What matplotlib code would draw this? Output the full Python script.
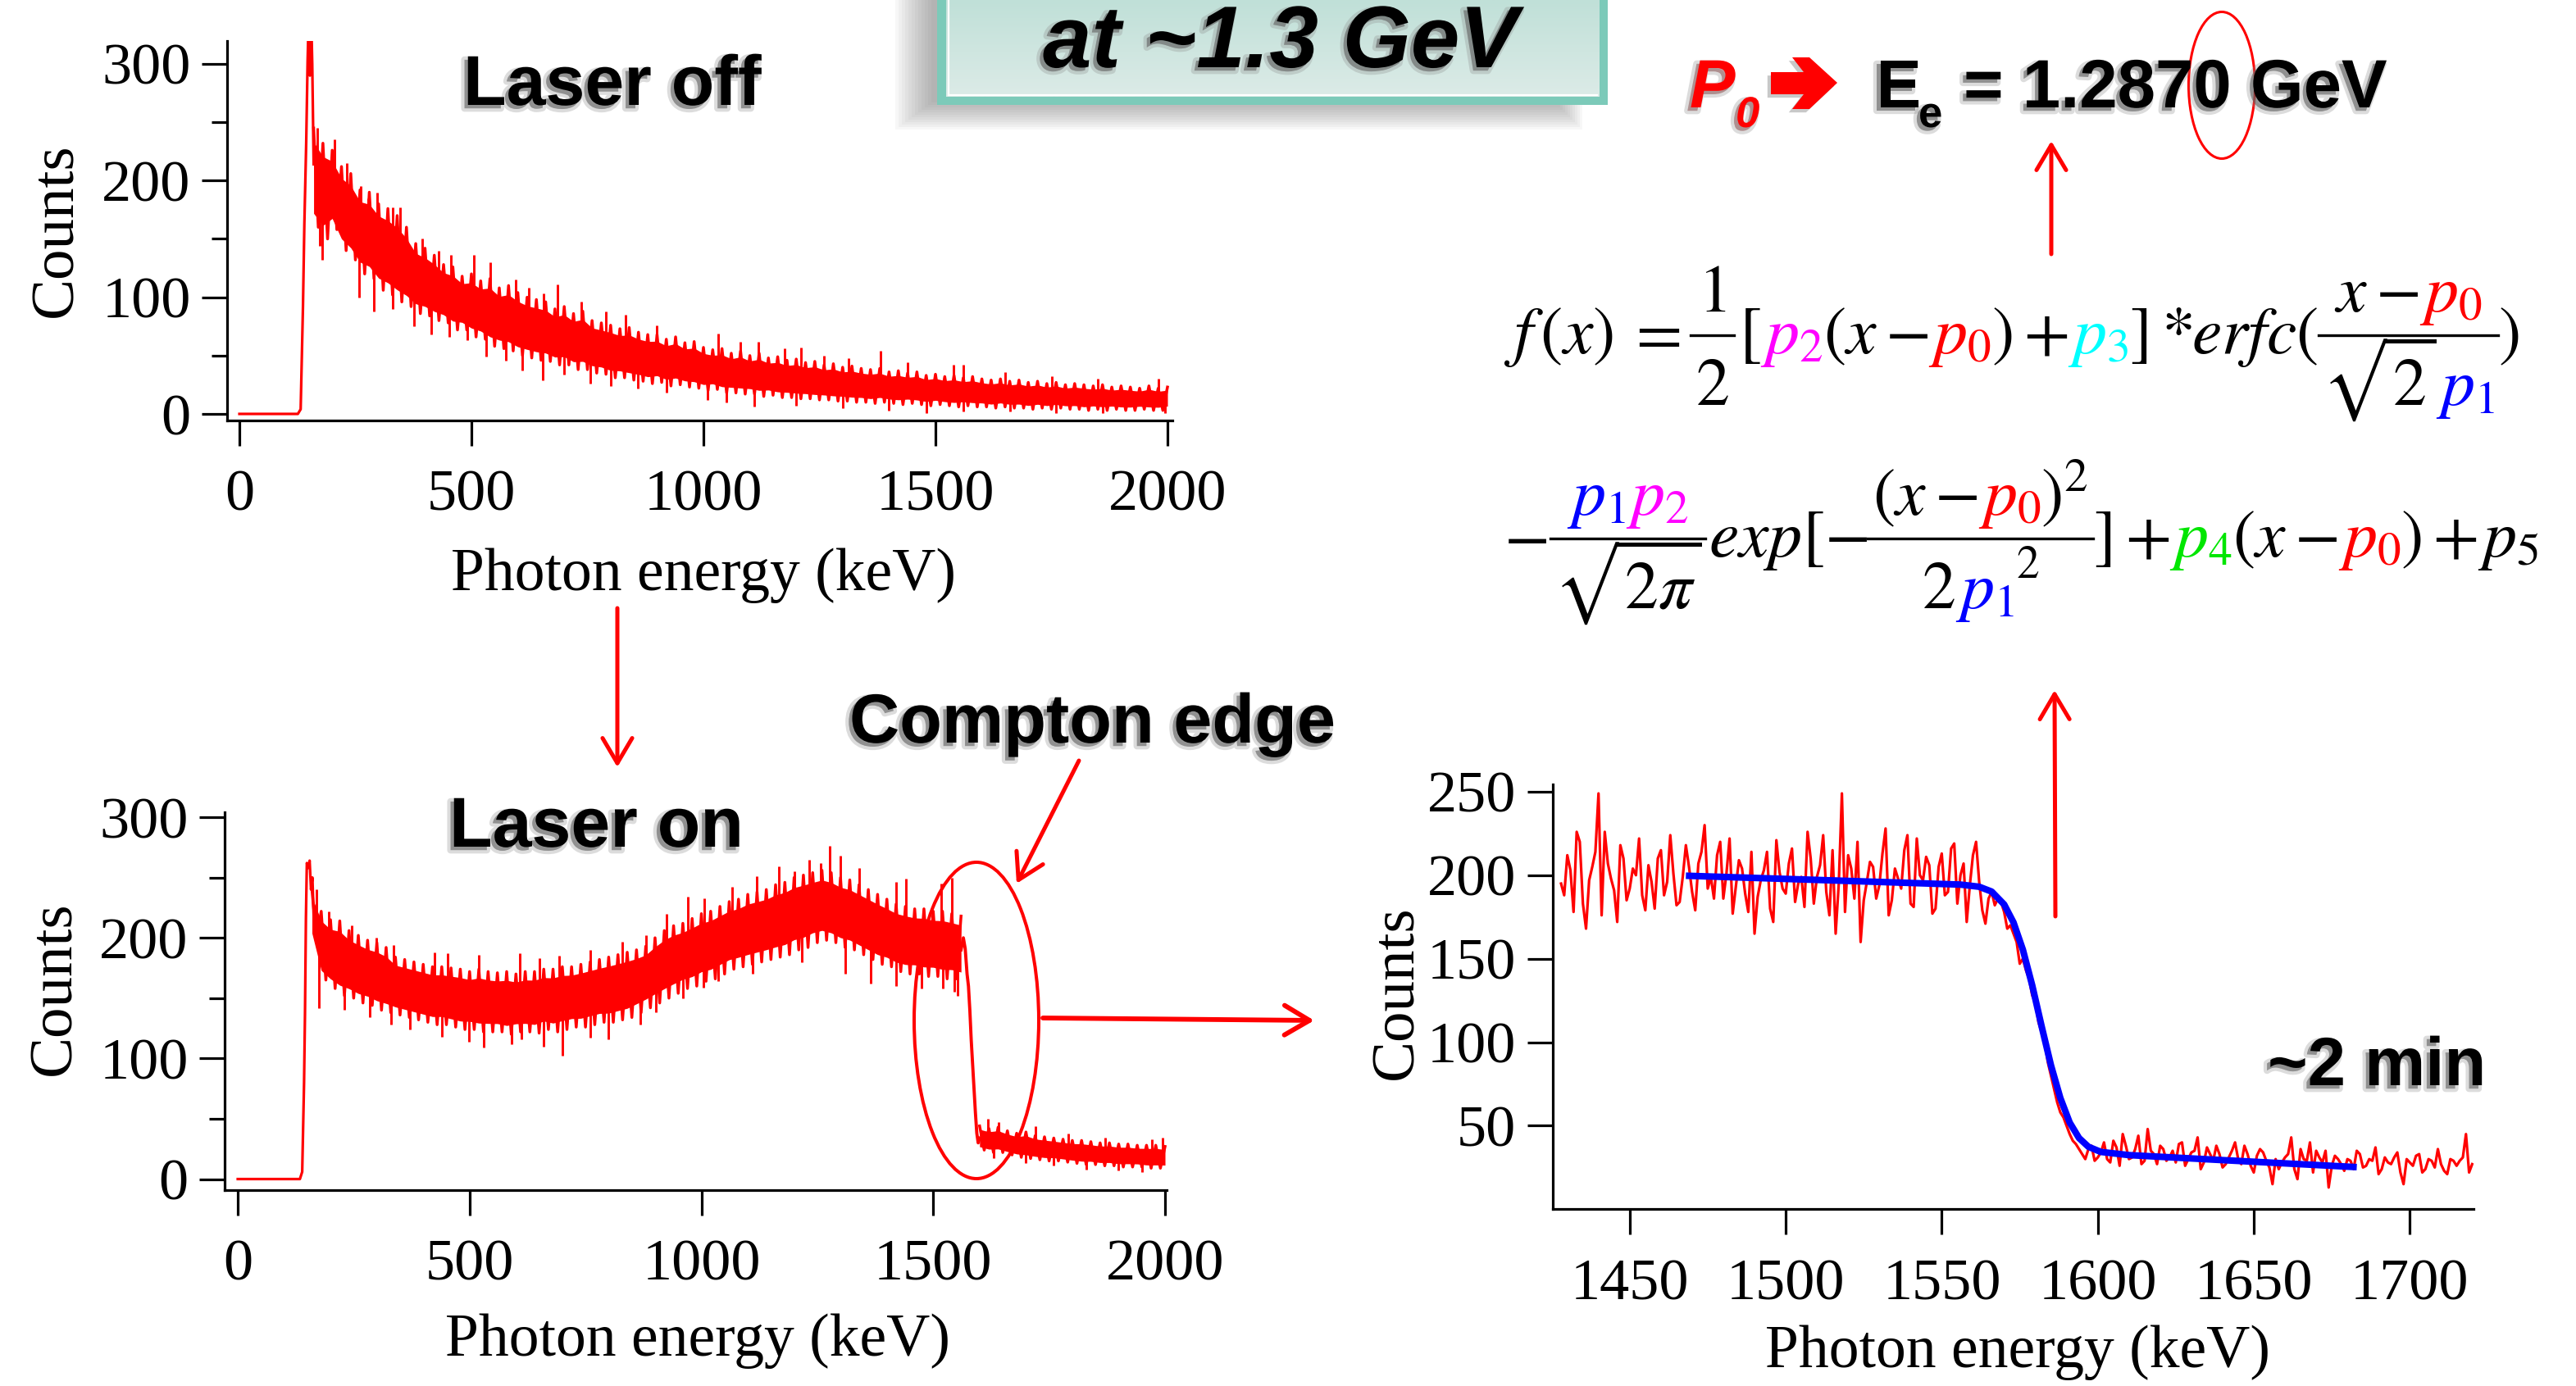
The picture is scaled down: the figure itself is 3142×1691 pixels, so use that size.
import numpy as np
import matplotlib
matplotlib.use("Agg")
import matplotlib.pyplot as plt
import matplotlib.patches as mpatches
import matplotlib.transforms as mtransforms
import matplotlib.patheffects as pe
from matplotlib.lines import Line2D
from matplotlib.colors import LinearSegmentedColormap

# ======================= DATA =======================
# --- Panel A: "Laser off" spectrum (keV, counts) ---
off_rise_x = [0, 126, 132, 137, 140, 144, 147, 149, 152, 155, 157, 160]
off_rise_y = [0, 0, 4, 92, 163, 233, 303, 335, 290, 335, 300, 214]
off_band_x = np.arange(160, 2001, 20)
off_upper = [245, 232, 226, 212, 206, 192, 190, 180, 176, 170,
             160, 146, 142, 136, 128, 126, 118, 120, 114, 116,
             108, 110, 104, 100, 98, 96, 90, 92, 86, 88,
             80, 78, 76, 73, 74, 70, 68, 68, 64, 66,
             61, 62, 57, 55, 56, 52, 54, 50, 52, 48,
             49, 46, 47, 44, 45, 42, 43, 40, 41, 39,
             38, 39, 36, 37, 35, 36, 33, 34, 32, 33,
             31, 32, 30, 29, 30, 28, 29, 27, 28, 26,
             27, 25, 26, 25, 24, 25, 23, 24, 23, 22,
             24, 22, 23]
off_lower = [160, 150, 158, 140, 132, 120, 116, 106, 102, 96,
             92, 86, 84, 80, 78, 72, 72, 66, 64, 58,
             56, 54, 50, 48, 46, 45, 42, 42, 38, 38,
             35, 34, 31, 31, 29, 28, 26, 27, 24, 25,
             23, 22, 20, 21, 18, 18, 17, 17, 15, 16,
             14, 14, 13, 13, 12, 12, 11, 11, 10, 10,
             9, 10, 9, 8, 9, 8, 7, 8, 7, 6,
             7, 6, 6, 5, 6, 5, 5, 4, 5, 4,
             5, 4, 4, 3, 4, 3, 4, 3, 3, 4,
             3, 3, 4]
off_spk_up_x = [167, 205, 232, 262, 277, 296, 330, 346, 394, 430, 455, 506, 540, 595, 623, 655, 685, 737,
                790, 832, 900, 1032, 1080, 1118, 1175, 1211, 1260, 1313, 1382, 1440, 1538, 1560, 1650,
                1750, 1850, 1980]
off_spk_up_y = [245, 235, 215, 195, 185, 190, 177, 177, 150, 140, 136, 136, 130, 115, 108, 103, 111, 96,
                88, 85, 76, 69, 62, 62, 56, 57, 50, 48, 54, 44, 42, 42, 36,
                32, 30, 30]
off_spk_dn_x = [174, 178, 258, 290, 330, 376, 413, 452, 491, 531, 575, 609, 653, 700, 757, 800, 858, 920,
                1009, 1050, 1110, 1200, 1300, 1400, 1480, 1560, 1660, 1760, 1860, 1995]
off_spk_dn_y = [144, 132, 100, 88, 90, 75, 68, 66, 63, 49, 46, 37, 29, 34, 26, 24, 22, 18,
                12, 10, 6, 7, 5, 3, 1, 2, 2, 1, 1, 1]

# --- Panel B: "Laser on" spectrum ---
on_rise_x = [0, 134, 139, 143, 145, 147, 149, 152, 155, 158, 161, 164]
on_rise_y = [0, 0, 6, 80, 137, 216, 262, 258, 264, 240, 250, 215]
on_band_x = np.arange(160, 1561, 20)
on_upper = [240, 222, 215, 214, 206, 202, 198, 196, 192, 184,
            182, 180, 178, 176, 176, 175, 174, 172, 174, 172,
            171, 172, 170, 172, 172, 174, 174, 176, 176, 178,
            180, 182, 184, 186, 188, 190, 193, 200, 206, 210,
            212, 216, 220, 222, 226, 230, 232, 236, 238, 240,
            244, 246, 250, 252, 254, 256, 254, 250, 248, 244,
            240, 236, 232, 228, 226, 224, 224, 222, 222, 220,
            218]
on_lower = [198, 165, 158, 152, 150, 146, 144, 140, 138, 136,
            134, 132, 130, 128, 128, 126, 124, 124, 122, 122,
            122, 120, 122, 122, 121, 124, 122, 124, 126, 126,
            128, 130, 130, 132, 134, 138, 142, 146, 150, 154,
            158, 160, 164, 166, 170, 174, 176, 178, 180, 182,
            184, 186, 190, 192, 196, 198, 196, 192, 190, 186,
            182, 178, 176, 172, 170, 170, 168, 168, 166, 166,
            164]
on_edge_x = [1560, 1565, 1569, 1573, 1576, 1579, 1582, 1585, 1588, 1591, 1594, 1597, 1600]
on_edge_y = [190, 200, 191, 170, 160, 140, 115, 95, 75, 55, 38, 30, 34]
on_tail_x = np.arange(1600, 2001, 20)
on_tail_upper = [44, 42, 43, 40, 38, 39, 36, 35, 34, 33, 32, 32, 31, 30, 30, 29, 29, 28, 28, 28, 27]
on_tail_lower = [24, 22, 22, 20, 18, 17, 16, 15, 15, 14, 13, 12, 12, 11, 11, 10, 10, 10, 9, 9, 9]
on_spk_up_x = [170, 196, 246, 298, 336, 425, 452, 520, 608, 650, 693, 760, 830, 880, 925, 970, 1007, 1066,
               1120, 1167, 1200, 1232, 1257, 1276, 1300, 1340, 1420, 1442, 1518, 1540, 1618, 1641, 1720,
               1792, 1870, 1972, 1995]
on_spk_up_y = [240, 222, 210, 200, 194, 188, 187, 186, 187, 183, 185, 190, 197, 202, 220, 234, 233, 242,
               251, 259, 255, 265, 262, 276, 268, 258, 246, 249, 245, 250, 50, 47, 44,
               38, 34, 33, 34]
on_spk_dn_x = [175, 230, 284, 330, 372, 441, 498, 530, 590, 612, 660, 700, 760, 800, 868, 902, 960, 1004,
               1036, 1110, 1217, 1310, 1366, 1420, 1474, 1521, 1545, 1552, 1630, 1700, 1760, 1830, 1900, 1950]
on_spk_dn_y = [142, 140, 134, 128, 124, 118, 114, 109, 112, 116, 110, 102, 117, 116, 128, 138, 150, 159,
               164, 170, 180, 170, 162, 160, 158, 158, 155, 152, 17, 13, 11, 8, 7, 6]

# --- Panel C: zoom on the Compton edge ---
# even channels 1428, 1430, ..., 1720
edge_counts_even = [195, 212, 178, 220, 168, 205, 249, 226, 198, 172,
                    210, 192, 200, 188, 206, 180, 215, 196, 201, 184,
                    218, 190, 207, 230, 199, 212, 186, 222, 193, 204,
                    178, 165, 197, 214, 172, 202, 189, 216, 195, 181,
                    210, 199, 224, 176, 165, 249, 212, 186, 160, 196,
                    205, 194, 228, 185, 198, 215, 183, 222, 197, 206,
                    180, 213, 190, 219, 200, 172, 212, 196, 171, 190,
                    186, 178, 170, 160, 150, 138, 124, 106, 88, 72, 58, 50, 41, 36, 30, 38, 31,
                    40, 28, 37, 45, 30, 36, 27, 48, 33, 38,
                    29, 35, 39, 26, 34, 43, 28, 33, 38, 25,
                    31, 40, 27, 33, 22, 36, 29, 15, 24, 31,
                    43, 18, 30, 40, 35, 28, 13, 32, 27, 30,
                    24, 33, 26, 29, 21, 31, 27, 34, 15, 28,
                    32, 22, 30, 25, 27, 21, 29, 29, 45, 27]
# odd channels 1429, 1431, ..., 1719
edge_counts_odd = [188, 203, 226, 183, 197, 214, 176, 207, 191, 218,
                   185, 204, 222, 179, 196, 210, 188, 224, 182, 199,
                   205, 179, 214, 192, 186, 220, 201, 177, 209, 189,
                   214, 187, 203, 180, 221, 192, 207, 184, 199, 226,
                   183, 206, 190, 215, 195, 178, 204, 220, 185, 208,
                   186, 213, 176, 204, 192, 224, 181, 200, 211, 177,
                   205, 188, 216, 183, 207, 194, 220, 179, 186,
                   182, 184, 168, 165, 147, 143, 128, 112, 100, 80, 64, 55, 45, 39, 33, 36, 29,
                   34, 30, 41, 26, 38, 31, 44, 29, 35, 27,
                   36, 31, 28, 40, 30, 35, 24, 37, 29, 33,
                   27, 35, 30, 38, 26, 32, 34, 25, 30, 28,
                   33, 24, 36, 29, 22, 31, 35, 26, 30, 23,
                   29, 35, 25, 30, 37, 24, 28, 31, 22, 30,
                   26, 33, 24, 29, 36, 23, 30, 26, 31, 22]
edge_x_even = 1428 + 2 * np.arange(len(edge_counts_even))
edge_x_odd = 1429 + 2 * np.arange(len(edge_counts_odd))
fit_x = [1468, 1510, 1556, 1562, 1566, 1570, 1573, 1576, 1579, 1582, 1585, 1588, 1591, 1594, 1597, 1601,
         1610, 1640, 1683]
fit_y = [199.7, 197.2, 194.4, 193.1, 190.2, 182.5, 171.7, 155.4, 134.0, 109.6, 86.2, 66.6, 51.9, 42.6,
         37.4, 34.3, 32.4, 29.4, 25.2]

xticks_full = [0, 500, 1000, 1500, 2000]
yticks_full = [0, 100, 200, 300]
yminor_full = [50, 150, 250]
xticks_zoom = [1450, 1500, 1550, 1600, 1650, 1700]
yticks_zoom = [50, 100, 150, 200, 250]

# ======================= FIGURE =======================
plt.rcParams['mathtext.fontset'] = 'stix'
SERIF = ['Liberation Serif', 'DejaVu Serif']
SANS = ['Liberation Sans', 'DejaVu Sans']
RED = '#ff0000'
BLUE = '#0000ff'
MAG = '#ff00ff'
CYAN = '#00ffff'
GREEN = '#00e600'
K = 'black'

W, H = 3142, 1691
fig = plt.figure(figsize=(W / 100, H / 100), dpi=100)
fig.patch.set_facecolor('white')
PX = mtransforms.Affine2D().scale(1.0 / W, -1.0 / H).translate(0, 1) + fig.transFigure
R = fig.canvas.get_renderer()

SH = [pe.Stroke(linewidth=6, foreground='#8c8c8c', alpha=0.30, offset=(-3, -3)),
      pe.SimplePatchShadow(offset=(-3, -3), shadow_rgbFace='#777777', alpha=0.45),
      pe.Normal()]


def add_axes_px(l, t, r, b):
    return fig.add_axes([l / W, 1 - b / H, (r - l) / W, (b - t) / H])


def style(ax, xlim, ylim, xt, yt, yminor=None):
    ax.set_xlim(xlim)
    ax.set_ylim(ylim)
    for s in ['top', 'right']:
        ax.spines[s].set_visible(False)
    for s in ['left', 'bottom']:
        ax.spines[s].set_linewidth(2.3)
        ax.spines[s].set_color('black')
    ax.set_xticks(xt)
    ax.set_yticks(yt)
    if yminor is not None:
        ax.set_yticks(yminor, minor=True)
    ax.tick_params(axis='both', which='major', direction='out', length=22, width=2.3,
                   labelsize=52, colors='black', labelfontfamily='Liberation Serif')
    ax.tick_params(axis='x', which='major', pad=21)
    ax.tick_params(axis='y', which='major', pad=10)
    ax.tick_params(axis='y', which='minor', direction='out', length=14, width=2.3)
    ax.patch.set_alpha(0)


def labels(ax, xl_pos, yl_pos):
    ax.set_xlabel('Photon energy (keV)', fontsize=53, family=SERIF, va='baseline')
    ax.xaxis.set_label_coords(xl_pos[0], xl_pos[1], transform=PX)
    ax.set_ylabel('Counts', fontsize=54, family=SERIF, va='center', ha='center')
    ax.yaxis.set_label_coords(yl_pos[0], yl_pos[1], transform=PX)


def band(ax, x, lo, hi, sux, suy, sdx, sdy):
    x = np.asarray(x, float)
    lo = np.asarray(lo, float)
    hi = np.asarray(hi, float)
    wid = hi - lo
    ax.fill_between(x, lo + 0.14 * wid, hi - 0.14 * wid, color=RED, lw=0)
    step = x[1] - x[0]
    zx = np.column_stack([x, x + step / 2]).ravel()[:-1]
    zy = np.column_stack([hi, lo]).ravel()[:-1]
    ax.plot(zx, zy, color=RED, lw=2.5)
    mid = (lo + hi) / 2
    ax.vlines(sux, np.interp(sux, x, mid), suy, color=RED, lw=2.1)
    ax.vlines(sdx, sdy, np.interp(sdx, x, mid), color=RED, lw=2.1)


# ---------- Panel A ----------
axA = add_axes_px(277, 49.5, 1430, 513)
style(axA, (-26.5, 2010.6), (-5.62, 320.0), xticks_full, yticks_full, yminor_full)
axA.plot(off_rise_x, off_rise_y, color=RED, lw=2.3)
band(axA, off_band_x, off_lower, off_upper, off_spk_up_x, off_spk_up_y, off_spk_dn_x, off_spk_dn_y)
labels(axA, (858, 720), (70, 281))

# ---------- Panel B ----------
axB = add_axes_px(274, 991, 1423, 1451.5)
style(axB, (-28.3, 2003.5), (-8.83, 304.1), xticks_full, yticks_full, yminor_full)
axB.plot(on_rise_x, on_rise_y, color=RED, lw=2.3)
pre_u = [i for i, v in enumerate(on_spk_up_x) if v < 1580]
pre_d = [i for i, v in enumerate(on_spk_dn_x) if v < 1580]
post_u = [i for i, v in enumerate(on_spk_up_x) if v >= 1580]
post_d = [i for i, v in enumerate(on_spk_dn_x) if v >= 1580]
band(axB, on_band_x, on_lower, on_upper,
     [on_spk_up_x[i] for i in pre_u], [on_spk_up_y[i] for i in pre_u],
     [on_spk_dn_x[i] for i in pre_d], [on_spk_dn_y[i] for i in pre_d])
axB.plot(on_edge_x, on_edge_y, color=RED, lw=2.8)
band(axB, on_tail_x, on_tail_lower, on_tail_upper,
     [on_spk_up_x[i] for i in post_u], [on_spk_up_y[i] for i in post_u],
     [on_spk_dn_x[i] for i in post_d], [on_spk_dn_y[i] for i in post_d])
labels(axB, (851, 1654), (68, 1206))

# ---------- Panel C ----------
axC = add_axes_px(1893.6, 957, 3017.3, 1475.3)
style(axC, (1425.25, 1720.5), (0, 254.4), xticks_zoom, yticks_zoom)
ex = np.concatenate([edge_x_even, edge_x_odd])
ey = np.concatenate([edge_counts_even, edge_counts_odd])
order = np.argsort(ex)
axC.plot(ex[order], ey[order], color=RED, lw=2.3)
axC.plot(fit_x, fit_y, color=BLUE, lw=5.8, solid_joinstyle='round', solid_capstyle='butt')
labels(axC, (2461, 1668), (1705, 1211))

# ---------- Title box ----------
for k in range(12):
    fig.add_artist(mpatches.Rectangle((1092 + 4 * k, -20), (1930 - 3 * k) - (1092 + 4 * k), 178 - 3 * k,
                                      transform=PX, fc='#505050', ec='none', alpha=0.045, zorder=1))
fig.add_artist(mpatches.Rectangle((1143, -20), 818, 148, transform=PX, fc='#7ccab9', ec='none', zorder=2))
gax = fig.add_axes([1154 / W, 1 - 118 / H, (1950 - 1154) / W, 118 / H])
gax.set_zorder(3)
gax.imshow(np.linspace(0, 1, 64).reshape(-1, 1), aspect='auto', extent=[0, 1, 0, 1],
           cmap=LinearSegmentedColormap.from_list('box', ['#c0e0d8', '#dcebe7']))
gax.axis('off')
fig.add_artist(Line2D([1157, 1157], [0, 116], transform=PX, color='white', lw=1.6, zorder=4))
fig.add_artist(Line2D([1157, 1948], [115.5, 115.5], transform=PX, color='white', lw=1.6, zorder=4))
fig.text(1562, 82, 'at ~1.3 GeV', transform=PX, fontsize=77, weight='bold', style='italic',
         family=SANS, ha='center', va='baseline', color='black', zorder=6, path_effects=SH)

# ---------- Big labels ----------
fig.text(565, 128, 'Laser off', transform=PX, fontsize=62, weight='bold', family=SANS,
         ha='left', va='baseline', path_effects=SH)
fig.text(548, 1033, 'Laser on', transform=PX, fontsize=62, weight='bold', family=SANS,
         ha='left', va='baseline', path_effects=SH)
fig.text(1036, 906, 'Compton edge', transform=PX, fontsize=61, weight='bold', family=SANS,
         ha='left', va='baseline', path_effects=SH)
fig.text(2766, 1324, '~2 min', transform=PX, fontsize=60, weight='bold', family=SANS,
         ha='left', va='baseline', path_effects=SH)

# ---------- P0 -> Ee line ----------
fig.text(2061, 131, 'P', transform=PX, fontsize=60, weight='bold', style='italic', family=SANS,
         color=RED, ha='left', va='baseline', path_effects=SH)
fig.text(2117, 155, '0', transform=PX, fontsize=38, weight='bold', style='italic', family=SANS,
         color=RED, ha='left', va='baseline', path_effects=SH)
arrow_pts = [(2160, 88), (2200, 88), (2186, 70), (2207, 70), (2241, 101), (2207, 133), (2186, 133),
             (2200, 115), (2160, 115)]
fig.add_artist(mpatches.Polygon(arrow_pts, closed=True, transform=PX, fc=RED, ec='none',
                                path_effects=[pe.SimplePatchShadow(offset=(-3, -3), shadow_rgbFace='#777777',
                                                                   alpha=0.4), pe.Normal()]))
fig.text(2288, 131, 'E', transform=PX, fontsize=60, weight='bold', family=SANS,
         ha='left', va='baseline', path_effects=SH)
fig.text(2340, 155, 'e', transform=PX, fontsize=38, weight='bold', family=SANS,
         ha='left', va='baseline', path_effects=SH)
fig.text(2395, 131, '= 1.2870 GeV', transform=PX, fontsize=60, weight='bold', family=SANS,
         ha='left', va='baseline', path_effects=SH)
fig.add_artist(mpatches.Ellipse((2710, 104), 81, 179, transform=PX, fill=False, ec=RED, lw=2.2))

# ---------- Formula ----------
FS = 59


def put(s, x, y, color, size, family=None, draw=True):
    kw = dict(color=color, fontsize=size, ha='left', va='baseline', transform=PX)
    if family:
        kw['family'] = family
    t = fig.text(x, y, s, **kw)
    w = t.get_window_extent(R).width
    if not draw:
        t.remove()
    return w


def run(items, x, y, size=FS, draw=True):
    for it in items:
        kind = it[0]
        if kind == 'g':
            x += it[1]
        elif kind == 't':
            x += put(it[1], x, y, it[2], size, draw=draw)
        elif kind == 'r':
            x += put(it[1], x, y - 0.45 * size * 100 / 72, it[2], size * 0.68,
                     family=['STIXGeneral', 'DejaVu Serif'], draw=draw)
        elif kind == 'f':
            num, den, pad = it[1], it[2], it[3]
            wn = run(num, 0, 0, size, draw=False)
            wd = run(den, 0, 0, size, draw=False)
            bw = max(wn, wd) + 2 * pad
            if draw:
                bar = y - 22
                fig.add_artist(Line2D([x, x + bw], [bar, bar], transform=PX, color='black', lw=2.4))
                run(num, x + (bw - wn) / 2, bar - 29, size)
                run(den, x + (bw - wd) / 2, bar + 85, size)
            x += bw
    return x


row1 = [('t', r'$f\,(x)$', K), ('g', 16), ('t', r'$=$', K), ('g', 12),
        ('f', [('t', r'$1$', K)], [('t', r'$2$', K)], 6), ('g', 6),
        ('t', r'$[$', K), ('t', r'$p_2$', MAG), ('t', r'$(x-$', K), ('t', r'$p_0$', RED),
        ('t', r'$)+$', K), ('t', r'$p_3$', CYAN), ('t', r'$]*$', K), ('t', r'$erfc($', K),
        ('f', [('t', r'$x-$', K), ('t', r'$p_0$', RED)], [('t', r'$\sqrt{2}$', K), ('t', r'$p_1$', BLUE)], 4),
        ('t', r'$)$', K)]
row2 = [('t', r'$-$', K), ('g', 4),
        ('f', [('t', r'$p_1$', BLUE), ('t', r'$p_2$', MAG)], [('t', r'$\sqrt{2\pi}$', K)], 4), ('g', 4),
        ('t', r'$exp[-$', K),
        ('f', [('t', r'$(x-$', K), ('t', r'$p_0$', RED), ('t', r'$)^2$', K)],
         [('t', r'$2$', K), ('t', r'$p_1$', BLUE), ('g', 3), ('r', '2', K)], 6),
        ('t', r'$]+$', K), ('t', r'$p_4$', GREEN), ('t', r'$(x-$', K), ('t', r'$p_0$', RED),
        ('t', r'$)+$', K), ('t', r'$p_5$', K)]
run(row1, 1834, 431)
run(row2, 1834, 679)

# ---------- Arrows & ellipse ----------
def arrow(p0, p1, lw=3.6):
    fig.add_artist(mpatches.FancyArrowPatch(p0, p1, transform=PX, mutation_scale=1,
                                            arrowstyle=mpatches.ArrowStyle('->', head_length=22, head_width=13),
                                            lw=lw, color=RED, shrinkA=0, shrinkB=0, zorder=5))


arrow((753, 742), (753, 936))
arrow((1316, 928), (1240, 1078))
arrow((1272, 1242), (1603, 1245), lw=4.2)
arrow((2507, 1118), (2506, 842))
arrow((2502, 310), (2502, 172))
fig.add_artist(mpatches.Ellipse((1191, 1245), 152, 386, transform=PX, fill=False, ec=RED, lw=2.9, zorder=5))

fig.savefig('out.png', dpi=100, facecolor='white')
